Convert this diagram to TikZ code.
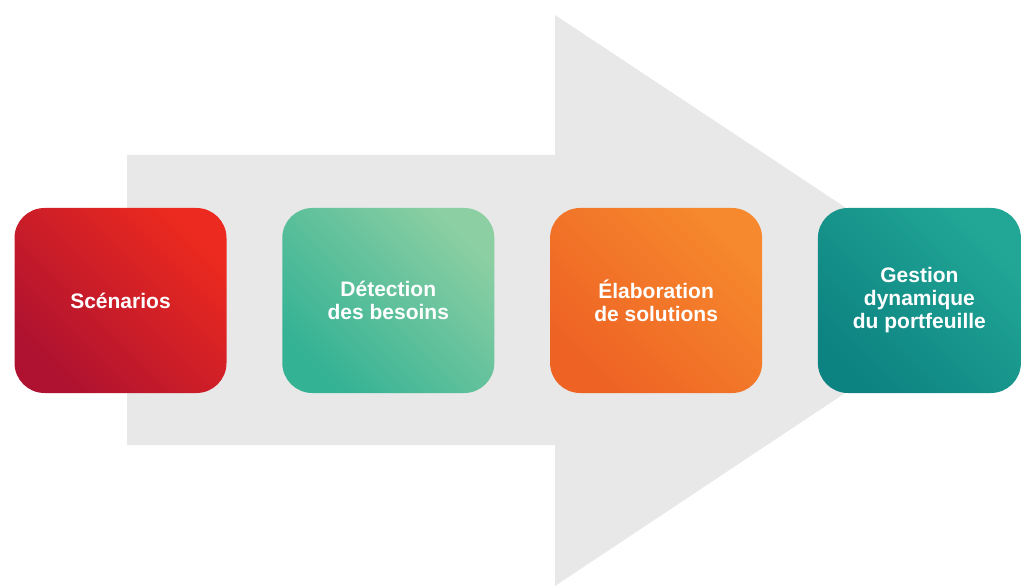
\documentclass[tikz,border=0pt]{standalone}
\usepackage{fontspec}
\setmainfont{Liberation Sans}
\usepackage{tikz}
\usetikzlibrary{positioning}
\definecolor{redlo}{HTML}{AE1230}
\definecolor{redhi}{HTML}{EC2A1F}
\definecolor{greenlo}{HTML}{33B294}
\definecolor{greenhi}{HTML}{8BCFA3}
\definecolor{orangelo}{HTML}{EE6224}
\definecolor{orangehi}{HTML}{F6892D}
\definecolor{teallo}{HTML}{0C8281}
\definecolor{tealhi}{HTML}{22A796}
\definecolor{arrowgray}{HTML}{E8E8E8}
\tikzset{stage/.style={rectangle,rounded corners=15pt,minimum width=106pt,minimum height=92.5pt,
                       text=white,font=\bfseries\fontsize{10.5}{11.5}\selectfont,align=center,inner sep=2pt},
         shadebox/.style 2 args={top color=#1,bottom color=#2,shading angle=135},
         bigarrow/.style={fill=arrowgray}}

\begin{document}
\begin{tikzpicture}[x=0.5pt,y=-0.5pt,node distance=27.5pt]
    \useasboundingbox (0,0) rectangle (1023,588);
    % background arrow
    \fill[bigarrow] (127,155) -- (555,155) -- (555,15) -- (985,300) -- (555,586) -- (555,445) -- (127,445) -- cycle;
    % stages
    \node (scen) [stage, shadebox={redlo}{redhi}] at (120.5,300.5) {Scénarios};
    \node (detect) [stage, shadebox={greenlo}{greenhi}, right=of scen] {Détection\\des besoins};
    \node (elab) [stage, shadebox={orangelo}{orangehi}, right=of detect] {Élaboration\\de solutions};
    \node (gest) [stage, shadebox={teallo}{tealhi}, right=of elab, minimum width=101.5pt] {Gestion\\dynamique\\du portfeuille};
\end{tikzpicture}
\end{document}
